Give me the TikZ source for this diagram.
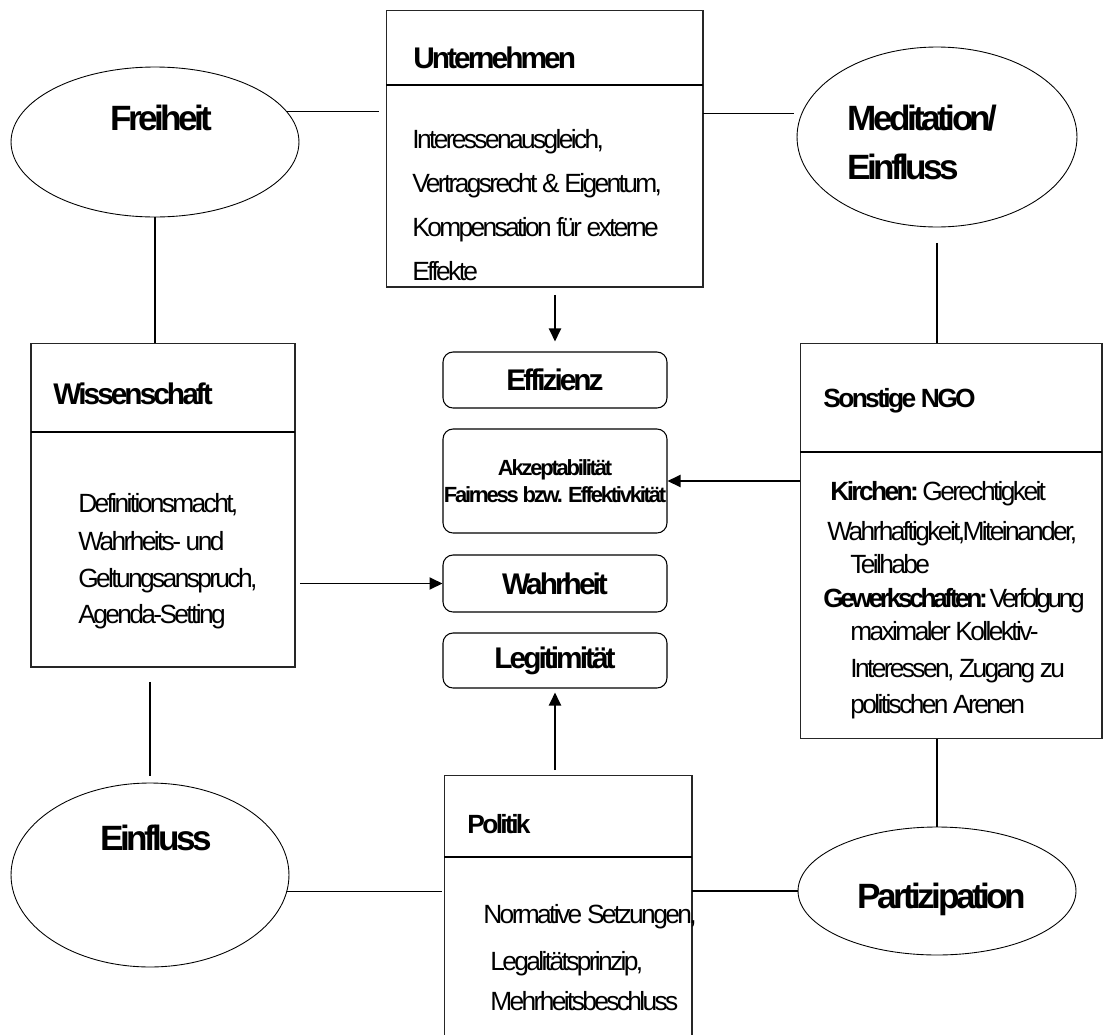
\documentclass[tikz,border=0pt]{standalone}
\usepackage{fontspec}
\setmainfont{Liberation Sans}[LetterSpace=-10]
\usetikzlibrary{arrows.meta,shapes.geometric}

\begin{document}
\begin{tikzpicture}[x=0.02cm, y=-0.02cm,
    frame/.style={draw=black!85, line width=0.6pt, inner sep=0, outer sep=0},
    oval/.style={ellipse, draw, line width=0.5pt, inner sep=0, outer sep=0},
    value/.style={draw, rounded corners=0.2cm, line width=0.6pt, minimum width=4.48cm,
        align=center, inner sep=0, font=\fontsize{17}{20}\selectfont\bfseries},
    link/.style={line width=0.6pt},
    push/.style={-{Triangle[length=0.26cm,width=0.24cm]}, line width=1.1pt},
    head/.style={font=\fontsize{17}{20}\selectfont\bfseries, inner sep=0, anchor=base west},
    subhead/.style={font=\fontsize{15}{18}\selectfont\bfseries, inner sep=0, anchor=base west},
    oname/.style={font=\fontsize{20}{24}\selectfont\bfseries, inner sep=0, anchor=base west},
    txt/.style={font=\fontsize{15}{18}\selectfont, inner sep=0, anchor=base west}]
    \useasboundingbox (0,0) rectangle (1103,1035);

    % ovals
    \node[oval, minimum width=5.76cm, minimum height=3.0cm] (frei) at (155,142) {};
    \node[oval, minimum width=5.6cm, minimum height=3.6cm] (med) at (937,137) {};
    \node[oval, minimum width=5.56cm, minimum height=3.68cm] (ein) at (150,875) {};
    \node[oval, minimum width=5.56cm, minimum height=2.56cm] (part) at (937,891) {};
    \node[oname] (freit) at (110,130) {Freiheit};
    \node[oname] (medt) at (847,130) {Meditation/};
    \node[oname] (medt2) at (847,179) {Einfluss};
    \node[oname] (eint) at (100,850) {Einfluss};
    \node[oname] (partt) at (857,908) {Partizipation};

    % actors
    \node[frame, minimum width=6.34cm, minimum height=5.54cm] (unt) at (544.5,148.5) {};
    \draw[link] (unt.west |- 0,85) -- (unt.east |- 0,85);
    \node[head] (untt) at (413,68) {Unternehmen};
    \node[txt] (u1) at (412,148) {Interessenausgleich,};
    \node[txt] (u2) at (412,192) {Vertragsrecht \& Eigentum,};
    \node[txt] (u3) at (412,236) {Kompensation für externe};
    \node[txt] (u4) at (412,280) {Effekte};

    \node[frame, minimum width=5.28cm, minimum height=6.48cm] (wiss) at (163,505) {};
    \draw[link] (wiss.west |- 0,432) -- (wiss.east |- 0,432);
    \node[head] (wisst) at (53,404) {Wissenschaft};
    \node[txt] (w1) at (78,512) {Definitionsmacht,};
    \node[txt] (w2) at (78,550) {Wahrheits- und};
    \node[txt] (w3) at (78,587) {Geltungsanspruch,};
    \node[txt] (w4) at (78,623) {Agenda-Setting};

    \node[frame, minimum width=6.04cm, minimum height=7.92cm] (ngo) at (951,541) {};
    \draw[link] (ngo.west |- 0,452) -- (ngo.east |- 0,452);
    \node[subhead] (ngot) at (823,407) {Sonstige NGO};
    \node[txt] (n1) at (830,500) {\textbf{Kirchen:} Gerechtigkeit};
    \node[txt] (n2) at (827,540) {Wahrhaftigkeit,Miteinander,};
    \node[txt] (n3) at (850,573) {Teilhabe};
    \node[txt] (n4) at (823,607) {\addfontfeatures{LetterSpace=-13}\textbf{Gewerkschaften:} Verfolgung};
    \node[txt] (n5) at (850,640) {maximaler Kollektiv-};
    \node[txt] (n6) at (850,677) {Interessen, Zugang zu};
    \node[txt] (n7) at (850,713) {politischen Arenen};

    \node[frame, minimum width=4.96cm, minimum height=5.4cm] (pol) at (568,910) {};
    \draw[link] (pol.west |- 0,857) -- (pol.east |- 0,857);
    \node[subhead] (polt) at (467,833) {Politik};
    \node[txt] (p1) at (483,923) {Normative Setzungen,};
    \node[txt] (p2) at (490,970) {Legalitätsprinzip,};
    \node[txt] (p3) at (490,1010) {Mehrheitsbeschluss};

    % values
    \node[value, minimum height=1.12cm] (eff) at (555,380) {Effizienz};
    \node[value, minimum height=2.08cm, font=\fontsize{12.5}{15}\selectfont\bfseries] (akz) at (555,481)
        {Akzeptabilität\\Fairness bzw. Effektivkität};
    \node[value, minimum height=1.14cm] (wahr) at (555,583.5) {Wahrheit};
    \node[value, minimum height=1.1cm] (leg) at (555,660.5) {Legitimität};

    % links
    \draw[link, shorten >=0.14cm] (frei.13) -- (frei.13 -| unt.west);
    \draw[link, shorten >=0.16cm] (unt.east |- med.170) -- (med.170);
    \draw[link] (frei.south) -- (frei.south |- wiss.north);
    \draw[link, shorten <=0.32cm] (med.south) -- (med.south |- ngo.north);
    \draw[link, shorten <=0.3cm, shorten >=0.14cm] (ein.north |- wiss.south) -- (ein.north);
    \draw[link, shorten >=0.04cm] (ein.-7) -- (ein.-7 -| pol.west);
    \draw[link] (pol.east |- part.west) -- (part.west);
    \draw[link] (part.north |- ngo.south) -- (part.north);

    % arrows
    \draw[push, shorten <=0.16cm, shorten >=0.2cm] (eff.north |- unt.south) -- (eff.north);
    \draw[push] (ngo.west |- akz.east) -- (akz.east);
    \draw[push, shorten <=0.1cm] (wiss.east |- wahr.west) -- (wahr.west);
    \draw[push, shorten <=0.1cm, shorten >=0.08cm] (leg.south |- pol.north) -- (leg.south);
\end{tikzpicture}
\end{document}
